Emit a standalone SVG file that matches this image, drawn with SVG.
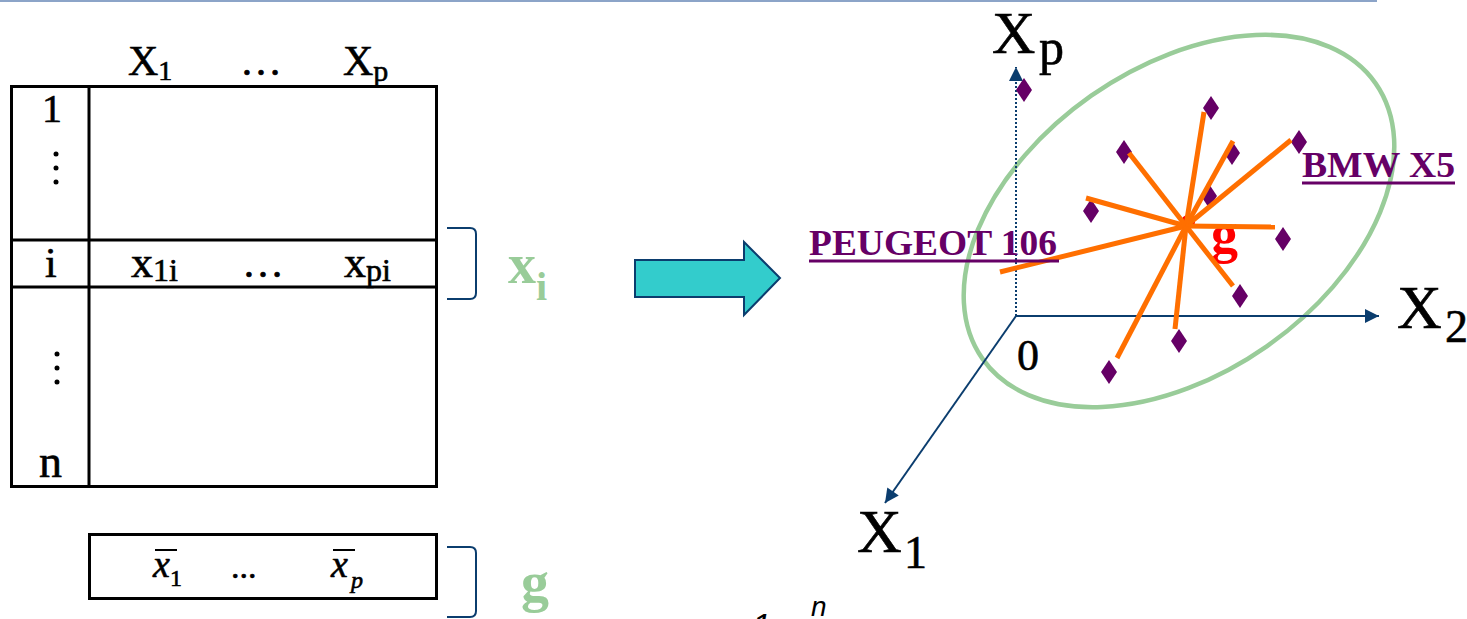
<svg xmlns="http://www.w3.org/2000/svg" width="1467" height="619" viewBox="0 0 1467 619">
<defs>
<style>
.tm{font-family:"Liberation Serif",serif;fill:#000;stroke:#000;stroke-width:0.6}
.tl{stroke:#000;stroke-width:3;fill:none}
.br{stroke:#0b3d6e;stroke-width:2;fill:none}
.grn{font-family:"Liberation Serif",serif;font-weight:bold;fill:#99cc99}
.ax{stroke:#0b3d6e;stroke-width:2;fill:none}
.ray{stroke:#ff6f00;stroke-width:5;stroke-linecap:butt}
.lab{font-family:"Liberation Serif",serif;font-weight:bold;fill:#660066}
.ul{stroke:#660066;stroke-width:3}
.dot{fill:#000}
.sans{font-family:"Liberation Sans",sans-serif;font-style:italic;fill:#000}
</style>
<marker id="ah" viewBox="0 0 10 10" refX="10" refY="5" markerUnits="userSpaceOnUse" markerWidth="15" markerHeight="14" orient="auto">
<path d="M0,0 L10,5 L0,10 z" fill="#0b3d6e"/>
</marker>
<path id="dia" d="M0,-12 L8,0 L0,12 L-8,0 Z" fill="#660066"/>
</defs>
<rect width="1467" height="619" fill="#fff"/>
<line x1="0" y1="1" x2="1377" y2="1" stroke="#8ca4c8" stroke-width="2"/>

<g id="table">
<rect class="tl" x="11.5" y="86.5" width="425" height="400"/>
<line class="tl" x1="89" y1="86" x2="89" y2="487"/>
<line class="tl" x1="11" y1="240" x2="436" y2="240"/>
<line class="tl" x1="11" y1="287" x2="436" y2="287"/>
<text class="tm" x="128" y="75" font-size="42">X<tspan font-size="28" dy="5">1</tspan></text>
<text class="tm" x="240" y="75" font-size="42" stroke-width="0">…</text>
<text class="tm" x="343" y="75" font-size="42">X<tspan font-size="30" dy="6">p</tspan></text>
<text class="tm" x="42" y="122" font-size="40">1</text>
<circle class="dot" cx="56" cy="154" r="2.5"/><circle class="dot" cx="56" cy="168" r="2.5"/><circle class="dot" cx="56" cy="182" r="2.5"/>
<text class="tm" x="45" y="277" font-size="42">i</text>
<text class="tm" x="131" y="277" font-size="44" stroke-width="0.5">x<tspan font-size="32" dy="4">1i</tspan></text>
<text class="tm" x="242" y="277" font-size="42" stroke-width="0">…</text>
<text class="tm" x="344" y="277" font-size="44" stroke-width="0.5">x<tspan font-size="32" dy="4">pi</tspan></text>
<circle class="dot" cx="57" cy="354" r="2.5"/><circle class="dot" cx="57" cy="368" r="2.5"/><circle class="dot" cx="57" cy="382" r="2.5"/>
<text class="tm" x="39" y="477" font-size="46">n</text>
</g>

<g id="mean-row">
<rect class="tl" x="89.5" y="534.5" width="347" height="64"/>
<text class="tm" x="153" y="577" font-size="38" font-style="italic" stroke-width="0.4">x<tspan font-size="24" font-style="normal" dy="9">1</tspan></text>
<line x1="155" y1="550" x2="177" y2="550" stroke="#000" stroke-width="2"/>
<text class="tm" x="231" y="578" font-size="34" stroke-width="0">...</text>
<text class="tm" x="331" y="577" font-size="38" font-style="italic" stroke-width="0.4">x<tspan font-size="24" dx="3" dy="11">p</tspan></text>
<line x1="333" y1="550" x2="355" y2="550" stroke="#000" stroke-width="2"/>
</g>

<g id="bracket-xi">
<path class="br" d="M447,228 L470,228 Q476,228 476,234 L476,293 Q476,299 470,299 L447,299"/>
<text class="grn" x="508" y="283" font-size="56">x<tspan font-size="40" dy="17">i</tspan></text>
</g>

<g id="bracket-g">
<path class="br" d="M447,547 L470,547 Q476,547 476,553 L476,611 Q476,617 470,617 L447,617"/>
<text class="grn" x="521" y="601" font-size="56">g</text>
</g>

<g id="block-arrow">
<polygon points="635,260 744,260 744,242 780,278 744,315 744,297 635,297" fill="#33cccc" stroke="#0b3d6e" stroke-width="2"/>
</g>

<g id="partial-formula">
<text class="sans" x="752" y="637" font-size="34">1</text>
<text class="sans" x="811" y="616" font-size="28">n</text>
</g>

<g id="ellipse">
<ellipse cx="1179" cy="221" rx="240" ry="153" transform="rotate(-35 1179 221)" fill="none" stroke="#99cc99" stroke-width="4.5"/>
</g>

<g id="connectors">
<line class="ax" x1="1016" y1="316" x2="1379" y2="316" marker-end="url(#ah)"/>
<line class="ax" x1="1016" y1="316" x2="885" y2="503" marker-end="url(#ah)"/>
<line class="ax" x1="1016" y1="316" x2="1016" y2="67" stroke-dasharray="2 2" marker-end="url(#ah)"/>
</g>

<g id="axis-labels">
<text class="tm" x="992" y="53" font-size="60" stroke-width="0.8">X</text>
<text class="tm" x="1039" y="64" font-size="50" stroke-width="0.6">p</text>
<text class="tm" x="1397" y="328" font-size="62" stroke-width="0.8">X</text>
<text class="tm" x="1445" y="342" font-size="46" stroke-width="0.6">2</text>
<text class="tm" x="857" y="552" font-size="62" stroke-width="0.8">X</text>
<text class="tm" x="904" y="568" font-size="46" stroke-width="0.6">1</text>
<text class="tm" x="1017" y="370" font-size="44" stroke-width="0.6">0</text>
</g>

<g id="points">
<use href="#dia" x="1024" y="90"/>
<use href="#dia" x="1211" y="108"/>
<use href="#dia" x="1299" y="142"/>
<use href="#dia" x="1124" y="152"/>
<use href="#dia" x="1232" y="153"/>
<use href="#dia" x="1209" y="196"/>
<use href="#dia" x="1091" y="211"/>
<use href="#dia" x="1283" y="239"/>
<use href="#dia" x="1240" y="296"/>
<use href="#dia" x="1179" y="341"/>
<use href="#dia" x="1109" y="372"/>
</g>

<g id="centroid">
<circle cx="1188" cy="222" r="7" fill="#ff0000"/>
<text x="1211" y="252" font-family="Liberation Serif,serif" font-weight="bold" font-size="54" fill="#ff0000">g</text>
<g id="rays">
<line class="ray" x1="1186" y1="226" x2="1204" y2="112"/>
<line class="ray" x1="1186" y1="226" x2="1233" y2="141"/>
<line class="ray" x1="1186" y1="226" x2="1291" y2="140"/>
<line class="ray" x1="1186" y1="226" x2="1129" y2="153"/>
<line class="ray" x1="1186" y1="226" x2="1086" y2="198"/>
<line class="ray" x1="1186" y1="226" x2="1000" y2="272"/>
<line class="ray" x1="1186" y1="226" x2="1275" y2="227"/>
<line class="ray" x1="1186" y1="226" x2="1233" y2="286"/>
<line class="ray" x1="1186" y1="226" x2="1117" y2="358"/>
<line class="ray" x1="1186" y1="226" x2="1175" y2="329"/>
</g>
</g>

<g id="label-peugeot">
<text class="lab" x="809" y="255" font-size="36" textLength="248" lengthAdjust="spacingAndGlyphs">PEUGEOT 106</text>
<line class="ul" x1="809" y1="261" x2="1059" y2="261"/>
</g>
<g id="label-bmw">
<text class="lab" x="1302" y="177" font-size="36" textLength="153" lengthAdjust="spacingAndGlyphs">BMW X5</text>
<line class="ul" x1="1302" y1="183" x2="1455" y2="183"/>
</g>
</svg>
